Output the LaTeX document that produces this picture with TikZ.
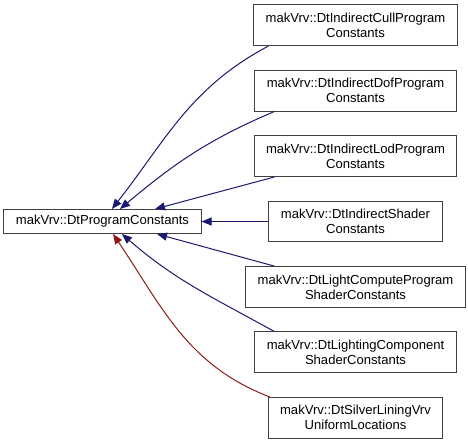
\documentclass[tikz,border=0pt]{standalone}
\usepackage{fontspec}
\setmainfont{Liberation Sans}
\usepackage{xcolor}
\usepackage{tikz}
\usetikzlibrary{positioning, arrows.meta}
\definecolor{pubblue}{HTML}{191970}
\definecolor{protred}{HTML}{8B1A1A}
\tikzset{
	->, % makes the edges directed
	>={Triangle[length=7.5pt,width=6pt]}, % filled arrow heads
	node distance=49.05pt, % vertical step between the derived classes
	cls/.style={draw=black!75, line width=0.75pt, fill=white, align=center, inner xsep=9pt, minimum height=30.5pt, font=\fontsize{9.8}{11.3}\selectfont}, % class boxes
	basecls/.style={cls, minimum height=18pt}, % the base class
	pubinh/.style={pubblue, line width=0.75pt}, % public inheritance
	protinh/.style={protred, line width=0.75pt}, % protected inheritance
}
\begin{document}
\begin{tikzpicture}[x=0.75pt, y=-0.75pt, on grid]
			\useasboundingbox (0,0) rectangle (468,444);
			% Define classes
			\node[basecls] (base) at (102.5,221.5) {makVrv::DtProgramConstants};
			\node[cls] (shader) at (355.5,221.5) {makVrv::DtIndirectShader\\Constants};
			\node[cls, above=of shader] (lod) {makVrv::DtIndirectLodProgram\\Constants};
			\node[cls, above=of lod] (dof) {makVrv::DtIndirectDofProgram\\Constants};
			\node[cls, above=of dof] (cull) {makVrv::DtIndirectCullProgram\\Constants};
			\node[cls, below=of shader] (lightcomp) {makVrv::DtLightComputeProgram\\ShaderConstants};
			\node[cls, below=of lightcomp] (lighting) {makVrv::DtLightingComponent\\ShaderConstants};
			\node[cls, below=of lighting] (silver) {makVrv::DtSilverLiningVrv\\UniformLocations};
			
			% Inheritance
			\path[->]
			([xshift=11.25pt]cull.south west) edge[pubinh, out=208, in=52] ([xshift=7.1pt]base.north)
			([xshift=15pt]dof.south west) edge[pubinh, out=203, in=40] ([xshift=13.1pt]base.north)
			([xshift=15.75pt]lod.south west) edge[pubinh] ([xshift=39.4pt]base.north)
			(shader.west) edge[pubinh] (base.east)
			([xshift=21.75pt]lightcomp.north west) edge[pubinh] ([xshift=40.9pt]base.south)
			([xshift=15pt]lighting.north west) edge[pubinh, out=151, in=319] ([xshift=14.6pt]base.south)
			([xshift=1.5pt]silver.north west) edge[protinh, out=159, in=304] ([xshift=7.9pt]base.south);
		\end{tikzpicture}
\end{document}
